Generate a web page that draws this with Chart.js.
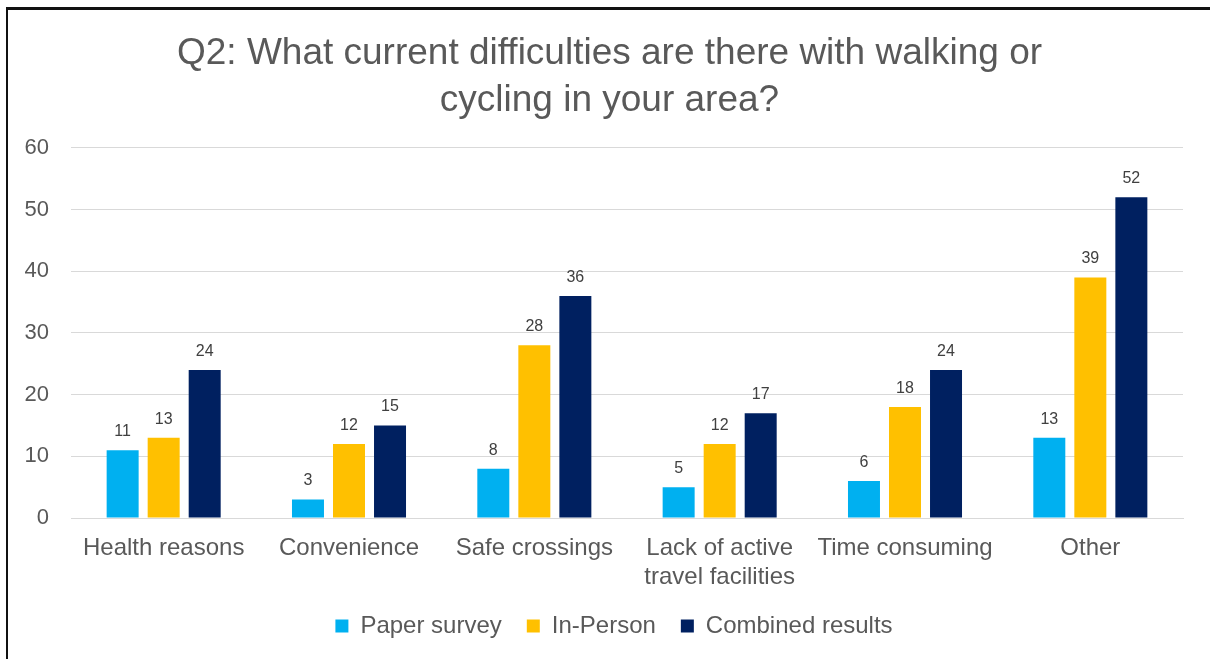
<!DOCTYPE html>
<html>
<head>
<meta charset="utf-8">
<script src="https://cdn.jsdelivr.net/npm/chart.js@4"></script>
<style>
  html, body { margin: 0; padding: 0; background: #fff; overflow: hidden; }
  #wrap { position: absolute; left: 0; top: 0; width: 1210px; height: 659px; }
  #frame { position: absolute; left: 6px; top: 7px; width: 1300px; height: 700px;
           border-left: 2px solid #111; border-top: 3px solid #111; pointer-events: none; }
</style>
</head>
<body>
<div id="wrap"><canvas id="chart"></canvas></div>
<div id="frame"></div>
<script>
// data
const categories = ["Health reasons", "Convenience", "Safe crossings", ["Lack of active", "travel facilities"], "Time consuming", "Other"];
const paperSurvey = [11, 3, 8, 5, 6, 13];
const inPerson = [13, 12, 28, 12, 18, 39];
const combinedResults = [24, 15, 36, 17, 24, 52];
const yTicks = [0, 10, 20, 30, 40, 50, 60];

Chart.defaults.font.family = "'Liberation Sans', Arial, sans-serif";
Chart.defaults.color = "#595959";

// value labels above each bar
const valueLabels = {
    id: "valueLabels",
    afterDatasetsDraw(chart) {
        const ctx = chart.ctx;
        ctx.save();
        ctx.font = "16px 'Liberation Sans', Arial, sans-serif";
        ctx.fillStyle = "#404040";
        ctx.textAlign = "center";
        ctx.textBaseline = "alphabetic";
        chart.data.datasets.forEach((ds, i) => {
            chart.getDatasetMeta(i).data.forEach((bar, j) => {
                ctx.fillText(ds.data[j], bar.x, bar.y - 14);
            });
        });
        ctx.restore();
    }
};

// title and legend are centred on the whole frame, not just the plot
const centreBlocks = {
    id: "centreBlocks",
    afterLayout(chart) {
        if (chart.titleBlock) chart.titleBlock.left = 36;
        if (chart.legend) chart.legend.left = 45;
    }
};

new Chart(document.getElementById("chart"), {
    type: "bar",
    data: {
        labels: categories,
        datasets: [
            { label: "Paper survey", data: paperSurvey, backgroundColor: "#00B0F0" },
            { label: "In-Person", data: inPerson, backgroundColor: "#FFC000" },
            { label: "Combined results", data: combinedResults, backgroundColor: "#002060" }
        ]
    },
    options: {
        responsive: true,
        maintainAspectRatio: false,
        animation: false,
        datasets: { bar: { categoryPercentage: 0.664, barPercentage: 0.78 } },
        layout: { padding: { left: 0, right: 27, top: 0, bottom: 11 } },
        plugins: {
            title: {
                display: true,
                text: ["Q2: What current difficulties are there with walking or", "cycling in your area?"],
                font: { size: 37, weight: "normal", lineHeight: 1.27 },
                color: "#595959",
                padding: { top: 30, bottom: 24 }
            },
            legend: {
                position: "bottom",
                labels: {
                    font: { size: 24 },
                    color: "#595959",
                    boxWidth: 13,
                    boxHeight: 13,
                    padding: 25
                }
            },
            tooltip: { enabled: false }
        },
        scales: {
            x: {
                grid: { display: false },
                border: { color: "#D9D9D9" },
                afterFit(scale) { scale.height = 71; },
                ticks: { font: { size: 24, lineHeight: 1.2 }, color: "#595959", padding: 8, maxRotation: 0, autoSkip: false }
            },
            y: {
                min: 0,
                max: 60,
                afterBuildTicks(scale) { scale.ticks = yTicks.map(v => ({ value: v })); },
                afterFit(scale) { scale.width = 71; },
                grid: { color: "#D9D9D9", drawTicks: false },
                border: { display: false },
                ticks: { font: { size: 22 }, color: "#595959", padding: 22 }
            }
        }
    },
    plugins: [valueLabels, centreBlocks]
});
</script>
</body>
</html>
